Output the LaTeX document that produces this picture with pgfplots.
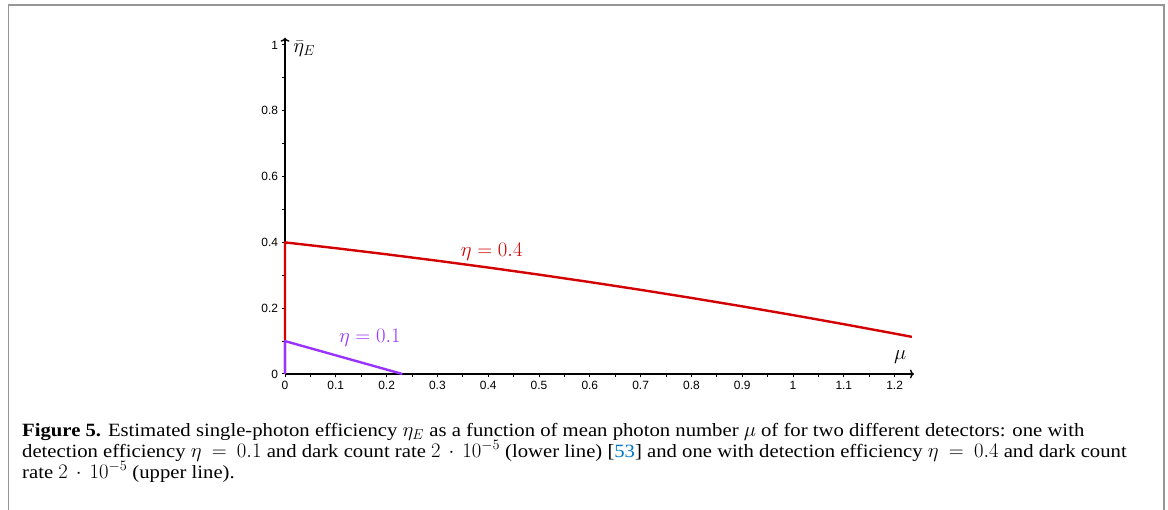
\documentclass[border=0pt]{standalone}
\usepackage{pgfplots}
\pgfplotsset{compat=1.18}
\usetikzlibrary{arrows.meta}
\usepackage{fontspec}
\setmainfont{Liberation Serif}
\newfontfamily\capfont[FakeStretch=1.105]{Liberation Serif}
\newfontfamily\ticksf{Liberation Sans}
\newcommand\cm[1]{{\fontsize{20}{22}\selectfont$#1$}}
\definecolor{cred}{RGB}{210,0,0}
\definecolor{cpurple}{RGB}{153,51,255}
\definecolor{cblue}{RGB}{0,120,200}
\definecolor{cframe}{RGB}{150,150,150}

\pgfplotstableread{
mu eta
0 0
0 0.400
0.1 0.3824
0.2 0.3638
0.3 0.3442
0.4 0.3236
0.5 0.3020
0.6 0.2794
0.7 0.2558
0.8 0.2312
0.9 0.2056
1.0 0.1790
1.1 0.1514
1.2 0.1228
1.234 0.1129
}\redtab
\pgfplotstableread{
mu eta
0 0
0 0.100
0.231 0
}\purpletab

\begin{document}
\begin{tikzpicture}[x=1bp,y=1bp]
\useasboundingbox (0,0) rectangle (1168,510);
\draw[cframe, line width=1.5bp] (8.5,0) -- (8.5,505) -- (1164,505) -- (1164,0);
\begin{axis}[
  at={(285bp,136bp)}, anchor=origin,
  x=508bp, y=329bp,
  xmin=0, xmax=1.238, ymin=0, ymax=1.022,
  axis lines=middle, enlargelimits=false, clip=false,
  axis line style={line width=1.4bp, -{To[length=4bp,width=9bp,line width=1.4bp]}},
  xtick={0,0.1,0.2,0.3,0.4,0.5,0.6,0.7,0.8,0.9,1,1.1,1.2},
  ytick={0,0.2,0.4,0.6,0.8,1},
  minor x tick num=1, minor y tick num=1,
  tick align=outside, major tick length=3.5bp, minor tick length=3bp,
  tick style={line width=1bp, black},
  hide obscured x ticks=false, hide obscured y ticks=false,
  /pgf/number format/assume math mode=true,
  ticklabel style={font=\ticksf\fontsize{12}{14}\selectfont},
  xlabel={$\mu$}, ylabel={$\bar{\eta}_E$},
  every axis x label/.style={at={(axis cs:1.211,0.052)}, anchor=center, font=\fontsize{20}{24}\selectfont},
  every axis y label/.style={at={(axis cs:0.038,0.990)}, anchor=center, font=\fontsize{20}{24}\selectfont},
]
\addplot[cred, line width=2.4bp, line join=round] table[x=mu,y=eta]{\redtab};
\addplot[cpurple, line width=2.4bp, line join=round] table[x=mu,y=eta]{\purpletab};
\node[cred, font=\fontsize{20}{24}\selectfont] at (axis cs:0.407,0.371) {$\eta = 0.4$};
\node[cpurple, font=\fontsize{20}{24}\selectfont] at (axis cs:0.167,0.109) {$\eta = 0.1$};
\end{axis}
\begin{scope}[every node/.style={anchor=base west, inner sep=0pt, font=\capfont\fontsize{18.8}{22}\selectfont}]
\node at (22,73.5) {\textbf{Figure 5.} Estimated single-photon efficiency \cm{\eta_E} as a function of mean photon number \cm{\mu} of for two different detectors: one with};
\node at (22,52.5) {detection efficiency \cm{\eta\:=\:0.1} and dark count rate \cm{2\,\cdot\,10^{-5}} (lower line) [\textcolor{cblue}{53}] and one with detection efficiency \cm{\eta\:=\:0.4} and dark count};
\node at (22,31.5) {rate \cm{2\,\cdot\,10^{-5}} (upper line).};
\end{scope}
\end{tikzpicture}
\end{document}
